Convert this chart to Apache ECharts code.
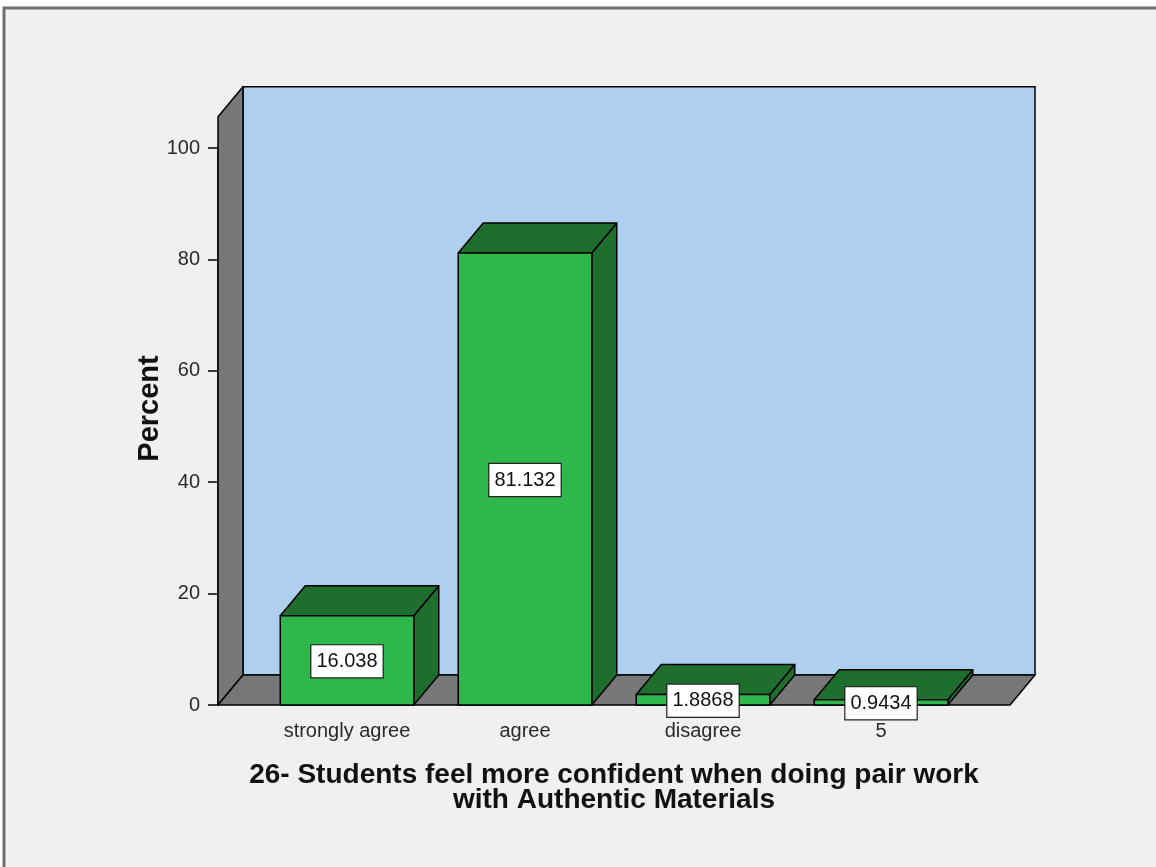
<!DOCTYPE html>
<html lang="en">
<head>
<meta charset="UTF-8">
<title>26- Students feel more confident when doing pair work</title>
<script src="https://cdn.jsdelivr.net/npm/echarts@6/dist/echarts.min.js"></script>
<style>
html, body { margin: 0; padding: 0; background: #fff; }
#main { width: 1156px; height: 867px; }
</style>
</head>
<body>
<div id="main"></div>
<script type="text/javascript">
// data
var categories = ['strongly agree', 'agree', 'disagree', '5'];
var percents = [16.038, 81.132, 1.8868, 0.9434];
var yTicks = [0, 20, 40, 60, 80, 100];
var xTitle = '26- Students feel more confident when doing pair work\nwith Authentic Materials';
var yTitle = 'Percent';

// 3d look
var DX = 25, DY = -30, PAD = 40, WALL_TOP = 105.6;
var FONT = 'Liberation Sans';

function wallsItem(params, api) {
    var cs = params.coordSys;
    var x0 = cs.x - PAD, x1 = cs.x + cs.width + PAD;
    var yb = api.coord([0, 0])[1];
    var yt = api.coord([0, WALL_TOP])[1];
    var edge = { stroke: '#000', lineWidth: 1.5, lineJoin: 'round' };
    return {
        type: 'group',
        children: [
            { type: 'rect', shape: { x: x0 + DX, y: yt + DY, width: x1 - x0, height: yb - yt },
              style: Object.assign({ fill: '#aecfee' }, edge) },
            { type: 'polygon', shape: { points: [[x0, yt], [x0 + DX, yt + DY], [x0 + DX, yb + DY], [x0, yb]] },
              style: Object.assign({ fill: '#777777' }, edge) },
            { type: 'polygon', shape: { points: [[x0, yb], [x0 + DX, yb + DY], [x1 + DX, yb + DY], [x1, yb]] },
              style: Object.assign({ fill: '#777777' }, edge) }
        ]
    };
}

function barItem(params, api) {
    var i = api.value(0), v = api.value(1);
    var base = api.coord([i, 0]);
    var top = api.coord([i, v]);
    var w = api.size([1, 0])[0] * 0.75;
    var xl = base[0] - w / 2, xr = base[0] + w / 2;
    var yb = base[1], yt = top[1];
    var edge = { stroke: '#000', lineWidth: 1.5, lineJoin: 'round' };
    return {
        type: 'group',
        children: [
            { type: 'polygon', shape: { points: [[xr, yt], [xr + DX, yt + DY], [xr + DX, yb + DY], [xr, yb]] },
              style: Object.assign({ fill: '#1e6e2e' }, edge) },
            { type: 'polygon', shape: { points: [[xl, yt], [xl + DX, yt + DY], [xr + DX, yt + DY], [xr, yt]] },
              style: Object.assign({ fill: '#1e6e2e' }, edge) },
            { type: 'rect', shape: { x: xl, y: yt, width: w, height: yb - yt },
              style: Object.assign({ fill: '#2eb84b' }, edge) },
            { type: 'text', z2: 10,
              style: {
                  text: String(percents[i]), x: base[0], y: (yb + yt) / 2 + 1,
                  align: 'center', verticalAlign: 'middle',
                  fontFamily: FONT, fontSize: 20, fill: '#111',
                  backgroundColor: '#fff', borderColor: '#222', borderWidth: 1.2,
                  padding: [6, 5, 6, 5]
              } }
        ]
    };
}

var chart = echarts.init(document.getElementById('main'));
chart.setOption({
    backgroundColor: '#fff',
    animation: false,
    graphic: [{
        type: 'rect', z: -10, silent: true,
        shape: { x: 4, y: 8, width: 1300, height: 1000 },
        style: { fill: '#f0f0f0', stroke: '#6f6f6f', lineWidth: 3 }
    }],
    grid: { left: 258, right: 186, top: 148, bottom: 162 },
    xAxis: {
        type: 'category',
        data: categories,
        axisLine: { show: false },
        axisTick: { alignWithLabel: true, length: 8, lineStyle: { color: '#000', width: 1.5 } },
        axisLabel: { margin: 16, fontFamily: FONT, fontSize: 20, color: '#2a2a2a' },
        name: xTitle,
        nameLocation: 'middle',
        nameGap: 58,
        nameMoveOverlap: false,
        nameTextStyle: { fontFamily: FONT, fontSize: 28, fontWeight: 'bold', color: '#111', lineHeight: 25 }
    },
    yAxis: {
        type: 'value',
        min: yTicks[0],
        max: yTicks[yTicks.length - 1],
        interval: yTicks[1] - yTicks[0],
        offset: PAD,
        splitLine: { show: false },
        axisLine: { show: true, lineStyle: { color: '#000', width: 1.5 } },
        axisTick: { show: true, length: 10, lineStyle: { color: '#000', width: 1.5 } },
        axisLabel: { margin: 18, fontFamily: FONT, fontSize: 20, color: '#2a2a2a' },
        name: yTitle,
        nameLocation: 'middle',
        nameGap: 54,
        nameMoveOverlap: false,
        nameTextStyle: { fontFamily: FONT, fontSize: 29, fontWeight: 'bold', color: '#111', padding: [0, 0, 0, 36] }
    },
    series: [{
        type: 'custom',
        z: 1,
        renderItem: wallsItem,
        data: [[0, 0]]
    }, {
        type: 'custom',
        z: 5,
        renderItem: barItem,
        data: percents.map(function (v, i) { return [i, v]; })
    }]
});
</script>
</body>
</html>
